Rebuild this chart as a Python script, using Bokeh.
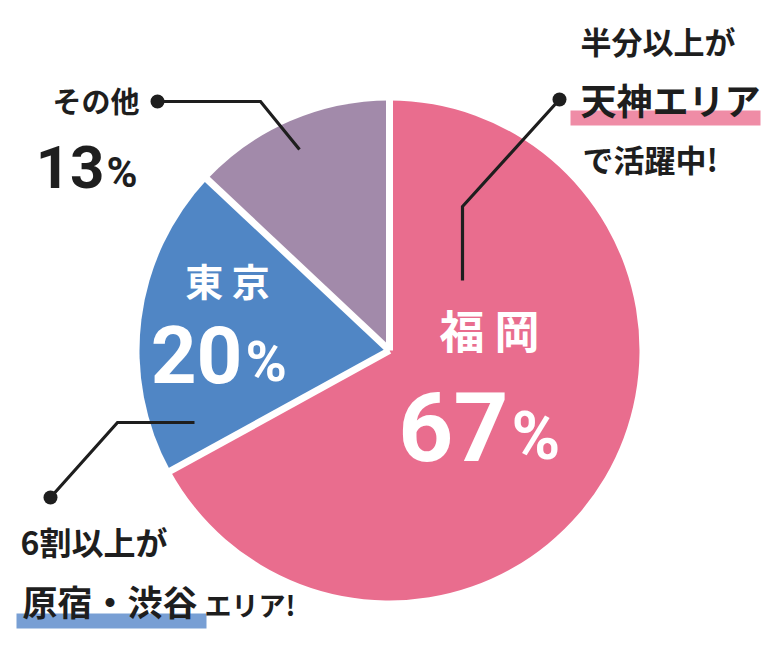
import math
from bokeh.plotting import figure
from bokeh.models import Range1d, ColumnDataSource
from bokeh.core.properties import value
from bokeh.embed import file_html
from bokeh.resources import INLINE

# Share of members by home region
regions = ["福岡", "東京", "その他"]
shares = [67, 20, 13]
slice_colors = ["#E96D8E", "#5086C5", "#A28AAA"]
pct_sign = "%"

W, H = 780, 650
INK = "#1e1e1e"
JP = "Noto Sans CJK JP"
NUM = "Roboto"

p = figure(width=W, height=H, x_range=Range1d(0, W), y_range=Range1d(0, H),
           output_backend="svg", toolbar_location=None, min_border=0)
p.axis.visible = False
p.grid.visible = False
p.outline_line_color = None
p.background_fill_color = "white"
p.border_fill_color = "white"


def Y(py):
    """Screen-style y (from the top) to plot y."""
    return H - py


# pie, clockwise from 12 o'clock
cx, cy, R = 389, Y(350), 250
total = sum(shares)
starts, ends = [], []
acc = 0
for s in shares:
    starts.append(math.pi / 2 - 2 * math.pi * acc / total)
    acc += s
    ends.append(math.pi / 2 - 2 * math.pi * acc / total)

src = ColumnDataSource(dict(start=starts, end=ends, color=slice_colors))
p.wedge(x=cx, y=cy, radius=R, start_angle="start", end_angle="end",
        direction="clock", fill_color="color", line_color=None, source=src)

# white gaps between slices
p.segment(x0=cx, y0=cy,
          x1=[cx + (R + 8) * math.cos(a) for a in starts],
          y1=[cy + (R + 8) * math.sin(a) for a in starts],
          line_color="white", line_width=7)

# highlight bars under the callout keywords
p.quad(left=[570, 16], right=[760, 206], top=[Y(110), Y(613)], bottom=[Y(125), Y(628)],
       fill_color=["#EF8CA6", "#789FD4"], line_color=None)

# leader lines with end dots
leaders = [
    ([157, 260, 299], [101, 101, 149]),
    ([559, 462, 462], [99, 206, 280]),
    ([50, 117, 194], [497, 422, 422]),
]
for xs, ys in leaders:
    p.line(xs, [Y(v) for v in ys], line_color=INK, line_width=3.2, line_join="miter")
p.scatter([l[0][0] for l in leaders], [Y(l[1][0]) for l in leaders],
          size=14, fill_color=INK, line_color=None)


def txt(x, y, s, size, color=INK, align="left", font=JP, style="bold"):
    p.text(x=[x], y=[Y(y)], text=[s], text_font=value(font), text_font_size=f"{size}px",
           text_color=color, text_align=align, text_baseline="middle", text_font_style=style)


def num(x, base, s, size, color=INK, align="left", drop=0.0):
    # figures sit on the line y = base; `drop` compensates the descent box of the sign
    p.text(x=[x], y=[Y(base + drop * size)], text=[s], text_font=value(NUM),
           text_font_size=f"{size}px", text_color=color, text_align=align,
           text_baseline="bottom", text_font_style="bold")


# callouts
txt(580, 40, "半分以上が", 31)
txt(580, 98, "天神エリア", 36)
txt(582, 158, "で活躍中!", 31)

txt(20, 540, "6割以上が", 32)
txt(22, 600, "原宿・渋谷", 35)
txt(204, 604, "エリア!", 27)

# labels inside the slices
txt(489, 329, regions[0][0] + " " + regions[0][1], 45, "white", align="center")
txt(227, 279, regions[1][0] + " " + regions[1][1], 38, "white", align="center")
txt(52, 99, regions[2], 29)

num(508, 460, str(shares[0]), 96, "white", align="right")
num(511, 460, pct_sign, 66, "white", drop=0.22)

num(242, 382, str(shares[1]), 80, "white", align="right")
num(245, 382, pct_sign, 56, "white", drop=0.22)

num(104, 187, str(shares[2]), 60, align="right")
num(106, 187, pct_sign, 42, drop=0.22)

open("out.html", "w").write(file_html(p, INLINE))
